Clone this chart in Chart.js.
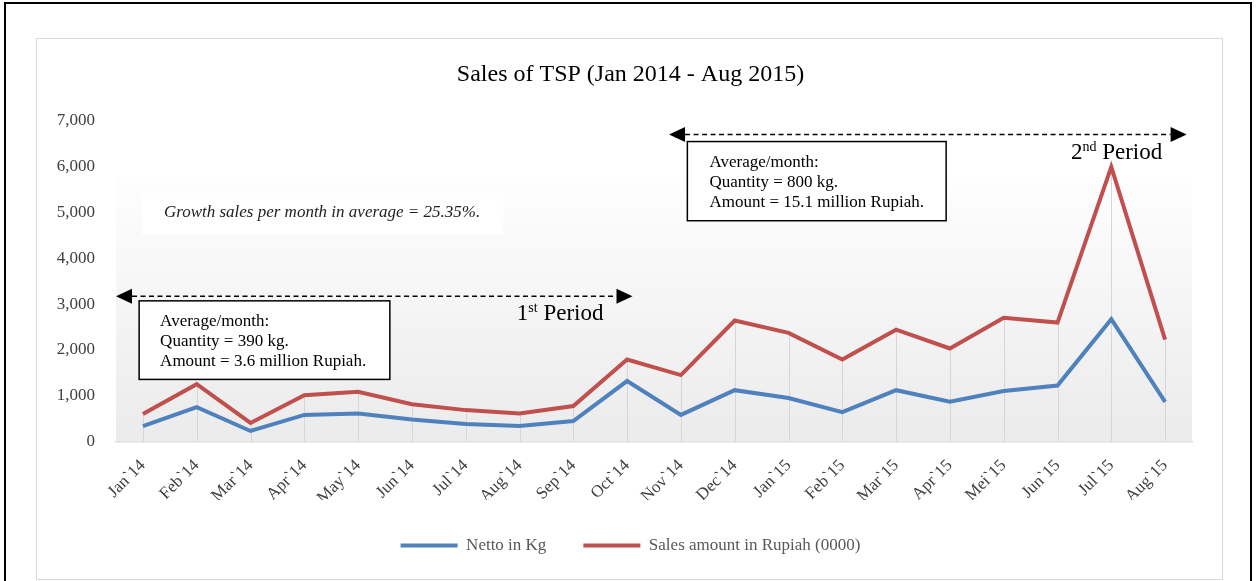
<!DOCTYPE html>
<html>
<head>
<meta charset="utf-8">
<script src="https://cdn.jsdelivr.net/npm/chart.js@4.4.1/dist/chart.umd.min.js"></script>
<style>
  html, body { margin: 0; padding: 0; background: #fff; width: 1257px; height: 581px; overflow: hidden; }
  #frame { position: absolute; left: 4px; top: 2px; width: 1248px; height: 640px; border: 2.5px solid #000; box-sizing: border-box; }
  #inner { position: absolute; left: 36px; top: 38px; width: 1187px; height: 542px; border: 1px solid #d9d9d9; box-sizing: border-box; }
  #chart { position: absolute; left: 0; top: 0; }
</style>
</head>
<body>
<div id="frame"></div>
<div id="inner"></div>
<canvas id="chart" width="1257" height="581"></canvas>
<script>
// data
const months = ["Jan`14", "Feb`14", "Mar`14", "Apr`14", "May`14", "Jun`14", "Jul`14", "Aug`14", "Sep`14", "Oct`14",
                "Nov`14", "Dec`14", "Jan`15", "Feb`15", "Mar`15", "Apr`15", "Mei`15", "Jun`15", "Jul`15", "Aug`15"];
const nettoKg = [335, 750, 230, 580, 610, 480, 380, 340, 445, 1320, 580, 1120, 950, 640, 1120, 870, 1100, 1220, 2670, 865];
const salesRupiah = [600, 1250, 405, 1010, 1085, 815, 685, 610, 775, 1790, 1450, 2640, 2370, 1790, 2440, 2030, 2700, 2595, 5995, 2225];
const yMax = 7000;
const yStep = 1000;

const serif = "'Liberation Serif', 'Times New Roman', serif";
const blue = "#4F81BD";
const red = "#C0504D";

// gradient fill of the plot area
const plotBackground = {
    id: 'plotBackground',
    beforeDatasetsDraw(chart) {
        const {ctx, chartArea: a} = chart;
        const top = a.top + (a.bottom - a.top) * 0.17;
        const g = ctx.createLinearGradient(0, top, 0, a.bottom);
        g.addColorStop(0, '#fefefe');
        g.addColorStop(1, '#ebebeb');
        ctx.save();
        ctx.fillStyle = g;
        ctx.fillRect(a.left, top, a.right - a.left, a.bottom - top);
        // drop lines from the highest point of each month to the axis
        const xs = chart.scales.x, ys = chart.scales.y;
        ctx.strokeStyle = '#d6d6d6';
        ctx.lineWidth = 1;
        months.forEach((m, i) => {
            const x = Math.round(xs.getPixelForValue(i)) + 0.5;
            const hi = Math.max(nettoKg[i], salesRupiah[i]);
            ctx.beginPath();
            ctx.moveTo(x, ys.getPixelForValue(hi));
            ctx.lineTo(x, ys.getPixelForValue(0));
            ctx.stroke();
        });
        ctx.restore();
    }
};

function drawArrow(ctx, x1, x2, y) {
    const head = 16, half = 7.5;
    ctx.save();
    ctx.strokeStyle = '#000';
    ctx.lineWidth = 1.5;
    ctx.setLineDash([5, 3.5]);
    ctx.beginPath();
    ctx.moveTo(x1 + head, y);
    ctx.lineTo(x2 - head, y);
    ctx.stroke();
    ctx.setLineDash([]);
    ctx.fillStyle = '#000';
    ctx.beginPath();
    ctx.moveTo(x1, y); ctx.lineTo(x1 + head, y - half); ctx.lineTo(x1 + head, y + half); ctx.closePath();
    ctx.fill();
    ctx.beginPath();
    ctx.moveTo(x2, y); ctx.lineTo(x2 - head, y - half); ctx.lineTo(x2 - head, y + half); ctx.closePath();
    ctx.fill();
    ctx.restore();
}

function drawBox(ctx, x1, y1, x2, y2, tx, ty, lines) {
    ctx.save();
    ctx.fillStyle = '#fff';
    ctx.fillRect(x1, y1, x2 - x1, y2 - y1);
    ctx.strokeStyle = '#000';
    ctx.lineWidth = 1.5;
    ctx.strokeRect(x1, y1, x2 - x1, y2 - y1);
    ctx.fillStyle = '#000';
    ctx.font = "17px " + serif;
    ctx.textBaseline = 'middle';
    lines.forEach((t, k) => ctx.fillText(t, tx, ty + k * 20));
    ctx.restore();
}

function drawPeriod(ctx, x, y, num, sup) {
    ctx.save();
    ctx.fillStyle = '#000';
    ctx.textBaseline = 'alphabetic';
    ctx.font = "23px " + serif;
    ctx.fillText(num, x, y);
    let cx = x + ctx.measureText(num).width;
    ctx.font = "14px " + serif;
    ctx.fillText(sup, cx, y - 8);
    cx += ctx.measureText(sup).width;
    ctx.font = "23px " + serif;
    ctx.fillText(" Period", cx, y);
    ctx.restore();
}

// text boxes and period arrows, placed in month index / value units
const notes = {
    id: 'notes',
    afterDatasetsDraw(chart) {
        const ctx = chart.ctx;
        const px = i => chart.scales.x.getPixelForValue(i);
        const py = v => chart.scales.y.getPixelForValue(v);

        ctx.save();
        ctx.fillStyle = '#ffffff';
        ctx.fillRect(px(-0.01), py(5425), px(6.7) - px(-0.01), py(4506) - py(5425));
        ctx.fillStyle = '#222';
        ctx.font = "italic 17px " + serif;
        ctx.textBaseline = 'middle';
        ctx.fillText("Growth sales per month in average = 25.35%.", px(0.39), py(4988));
        ctx.restore();

        drawArrow(ctx, px(-0.5), px(9.1), py(3170));
        drawArrow(ctx, px(9.78), px(19.4), py(6700));

        drawBox(ctx, px(-0.07), py(3070), px(4.59), py(1355), px(0.32), py(2610),
            ["Average/month:", "Quantity = 390 kg.", "Amount = 3.6 million Rupiah."]);
        drawBox(ctx, px(10.12), py(6547), px(14.93), py(4819), px(10.53), py(6081),
            ["Average/month:", "Quantity = 800 kg.", "Amount = 15.1 million Rupiah."]);

        drawPeriod(ctx, px(6.95), py(2822) + 8, "1", "st");
        drawPeriod(ctx, px(17.25), py(6350) + 8, "2", "nd");
    }
};

const ctx = document.getElementById('chart').getContext('2d');
const chart = new Chart(ctx, {
    type: 'line',
    data: {
        labels: months,
        datasets: [{
            label: 'Netto in Kg',
            data: nettoKg,
            borderColor: blue,
            backgroundColor: blue,
            borderWidth: 4,
            pointRadius: 0,
            tension: 0
        }, {
            label: 'Sales amount in Rupiah (0000)',
            data: salesRupiah,
            borderColor: red,
            backgroundColor: red,
            borderWidth: 4,
            pointRadius: 0,
            tension: 0
        }]
    },
    options: {
        responsive: false,
        animation: false,
        layout: {padding: {left: 42, right: 38, top: 40, bottom: 17}},
        plugins: {
            title: {
                display: true,
                text: 'Sales of TSP (Jan 2014 - Aug 2015)',
                color: '#000',
                font: {family: serif, size: 24, weight: 'normal'},
                padding: {top: 20, bottom: 32}
            },
            legend: {
                position: 'bottom',
                labels: {
                    usePointStyle: true,
                    pointStyle: 'line',
                    pointStyleWidth: 57,
                    padding: 37,
                    color: '#595959',
                    font: {family: serif, size: 17}
                }
            },
            tooltip: {enabled: false}
        },
        scales: {
            x: {
                offset: true,
                grid: {display: false},
                border: {display: true, color: '#d9d9d9', width: 1.5},
                ticks: {
                    color: '#404040',
                    font: {family: serif, size: 17},
                    minRotation: 45,
                    maxRotation: 45,
                    autoSkip: false,
                    padding: 6
                },
                afterFit: s => { s.height = 58.5; }
            },
            y: {
                min: 0,
                max: yMax,
                grid: {display: false},
                border: {display: false},
                ticks: {
                    stepSize: yStep,
                    padding: 13,
                    color: '#404040',
                    font: {family: serif, size: 17},
                    callback: v => v.toLocaleString('en-US')
                },
                afterFit: s => { s.width = 74; }
            },
            yPad: {
                position: 'right',
                grid: {display: false},
                border: {display: false},
                ticks: {display: false},
                afterFit: s => { s.width = 27; }
            }
        }
    },
    plugins: [plotBackground, notes]
});
</script>
</body>
</html>
